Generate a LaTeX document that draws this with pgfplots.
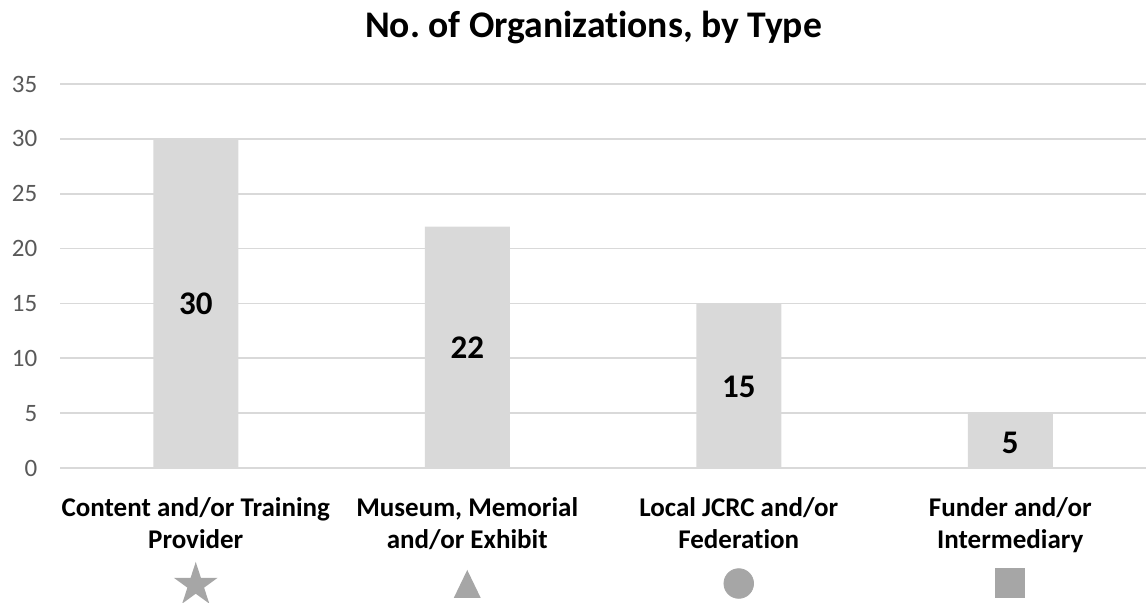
\documentclass[border=0pt]{standalone}
\usepackage{pgfplots}
\pgfplotsset{compat=1.18}
\usepackage{fontspec}
\setmainfont{Carlito}[Ligatures=NoCommon]
\definecolor{barc}{HTML}{D9D9D9}
\definecolor{gridc}{HTML}{D9D9D9}
\definecolor{symc}{HTML}{A6A6A6}
\definecolor{tickc}{HTML}{595959}
\pgfdeclareplotmark{fstar}{%
  \pgfpathmoveto{\pgfpointpolar{90}{\pgfplotmarksize}}%
  \pgfpathlineto{\pgfpointpolar{126}{0.382\pgfplotmarksize}}%
  \pgfpathlineto{\pgfpointpolar{162}{\pgfplotmarksize}}%
  \pgfpathlineto{\pgfpointpolar{198}{0.382\pgfplotmarksize}}%
  \pgfpathlineto{\pgfpointpolar{234}{\pgfplotmarksize}}%
  \pgfpathlineto{\pgfpointpolar{270}{0.382\pgfplotmarksize}}%
  \pgfpathlineto{\pgfpointpolar{306}{\pgfplotmarksize}}%
  \pgfpathlineto{\pgfpointpolar{342}{0.382\pgfplotmarksize}}%
  \pgfpathlineto{\pgfpointpolar{18}{\pgfplotmarksize}}%
  \pgfpathlineto{\pgfpointpolar{54}{0.382\pgfplotmarksize}}%
  \pgfpathclose\pgfusepathqfill}
\pgfdeclareplotmark{itri}{%
  \pgfpathmoveto{\pgfpointpolar{90}{\pgfplotmarksize}}%
  \pgfpathlineto{\pgfpointpolar{226.05}{1.389\pgfplotmarksize}}%
  \pgfpathlineto{\pgfpointpolar{313.95}{1.389\pgfplotmarksize}}%
  \pgfpathclose\pgfusepathqfill}
\begin{document}
\begin{tikzpicture}
\path[use as bounding box] (-30pt,-67.5pt) rectangle (543pt,234pt);
\begin{axis}[
  at={(0,0)}, anchor=south west,
  scale only axis, width=543pt, height=192pt,
  xmin=-0.5, xmax=3.5, ymin=0, ymax=35,
  ytick={0,5,...,35},
  xtick={0,1,2,3},
  xticklabels={{Content and/or Training\\Provider},{Museum, Memorial\\and/or Exhibit},{Local JCRC and/or\\Federation},{Funder and/or\\Intermediary}},
  xticklabel style={font=\fontsize{13.5}{16}\selectfont\bfseries, align=center, text=black, anchor=north, yshift=-11pt},
  yticklabel style={font=\fontsize{12.5}{14}\selectfont, text=tickc, anchor=east, xshift=-7.8pt},
  /pgf/number format/assume math mode=true,
  ymajorgrids, grid style={gridc, line width=0.9pt},
  axis line style={draw=none},
  major tick length=0pt,
  clip=false,
  title={No.\ of Organizations, by Type},
  title style={font=\fontsize{18.8}{22}\selectfont\bfseries, at={(0.5,1)}, anchor=base, yshift=17pt, xshift=-4.75pt},
]
\addplot[ybar, bar width=42.5pt, fill=barc, draw=none] coordinates {(0,30) (1,22) (2,15) (3,5)};
\addplot[draw=none, mark=none, nodes near coords, point meta=explicit symbolic,
  every node near coord/.style={anchor=center, font=\fontsize{16.5}{18}\selectfont\bfseries, text=black}]
  coordinates {(0,15)[30] (1,10.95)[22] (2,7.35)[15] (3,2.3)[5]};
\addplot[only marks, mark=fstar, mark size=11.5pt, color=symc] coordinates {(0,-10.66)};
\addplot[only marks, mark=itri, mark size=7pt, color=symc] coordinates {(1,-10.57)};
\addplot[only marks, mark=*, mark size=7.4pt, color=symc] coordinates {(2,-10.53)};
\addplot[only marks, mark=square*, mark size=7.2pt, color=symc] coordinates {(3,-10.5)};
\end{axis}
\end{tikzpicture}
\end{document}
